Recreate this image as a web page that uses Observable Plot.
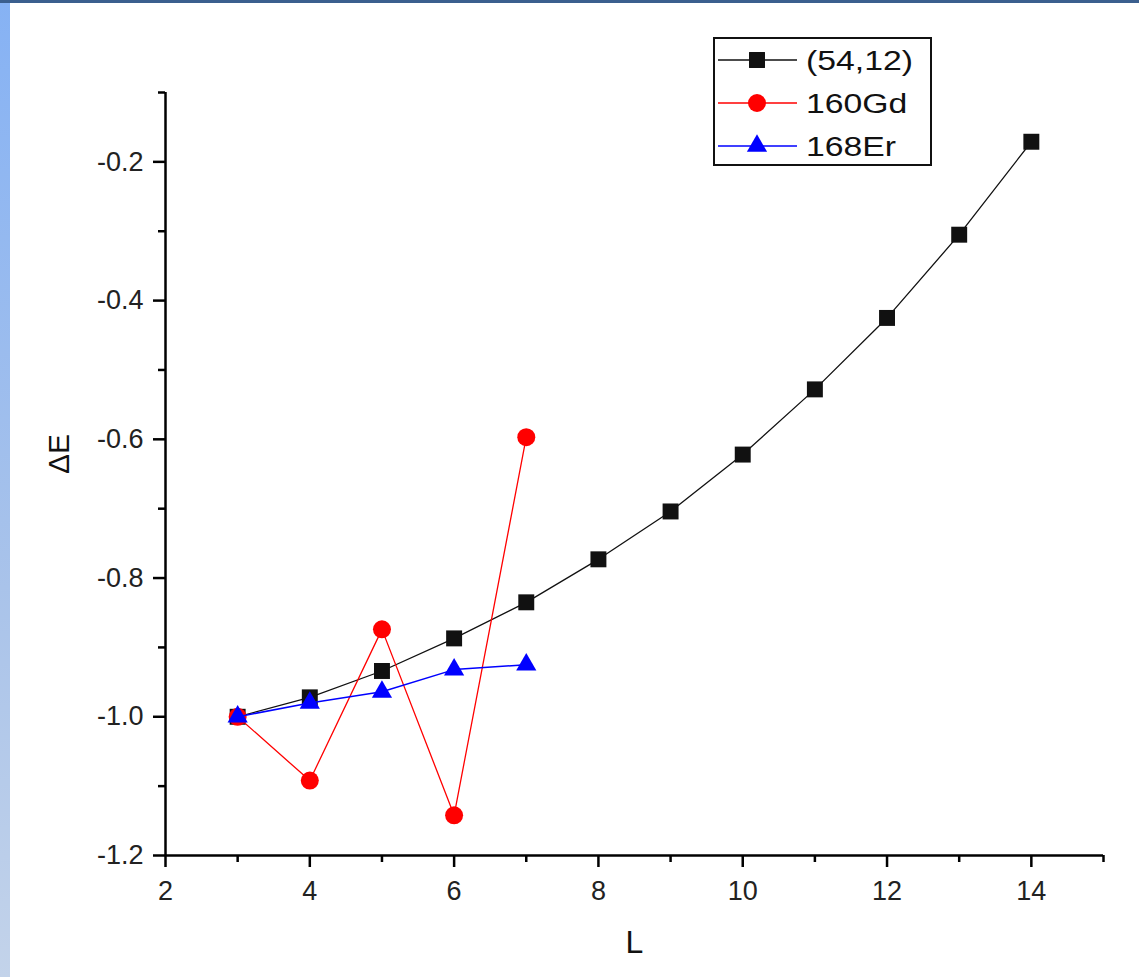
<!DOCTYPE html>
<html>
<head>
<meta charset="utf-8">
<script src="https://cdn.jsdelivr.net/npm/d3@7"></script>
<script src="https://cdn.jsdelivr.net/npm/@observablehq/plot@0.6"></script>
<style>
  html, body { margin: 0; padding: 0; background: #fff; }
  body { width: 1139px; height: 977px; position: relative; overflow: hidden; font-family: "Liberation Sans", Arial, sans-serif; }
  #topbar { position: absolute; left: 0; top: 0; width: 1139px; height: 3px; background: #3b5f8e; }
  #leftbar { position: absolute; left: 0; top: 3px; width: 10px; height: 974px; background: linear-gradient(#86b2f4, #a9c3ea 60%, #c3d3ea); }
  #chart { position: absolute; left: 0; top: 0; }
  #legend { position: absolute; left: 713px; top: 37px; }
</style>
</head>
<body>
<div id="chart"></div>
<div id="topbar"></div>
<div id="leftbar"></div>
<div id="legend"></div>
<script>
const L_black = [3, 4, 5, 6, 7, 8, 9, 10, 11, 12, 13, 14];
const E_black = [-1.0, -0.972, -0.934, -0.887, -0.835, -0.773, -0.704, -0.622, -0.528, -0.425, -0.305, -0.171];
const L_red = [3, 4, 5, 6, 7];
const E_red = [-1.0, -1.092, -0.874, -1.142, -0.597];
const L_blue = [3, 4, 5, 6, 7];
const E_blue = [-1.0, -0.980, -0.964, -0.932, -0.925];
const seriesNames = ["(54,12)", "160Gd", "168Er"];
const seriesColors = ["#111111", "#ff0000", "#0000ff"];
const seriesSymbols = ["square", "circle", "triangle"];
const xMajor = [2, 4, 6, 8, 10, 12, 14];
const xMinor = [3, 5, 7, 9, 11, 13, 15];
const yMajor = [-1.2, -1.0, -0.8, -0.6, -0.4, -0.2];
const yMinor = [-1.1, -0.9, -0.7, -0.5, -0.3, -0.1];

const black = L_black.map((L, i) => ({L, E: E_black[i]}));
const red = L_red.map((L, i) => ({L, E: E_red[i]}));
const blue = L_blue.map((L, i) => ({L, E: E_blue[i]}));

const fmt = d => d.toFixed(1);

const chart = Plot.plot({
  width: 1139,
  height: 977,
  marginLeft: 165,
  marginTop: 92,
  marginRight: 36,
  marginBottom: 122,
  style: {fontFamily: "'Liberation Sans', Arial, sans-serif", fontSize: "27px", color: "#222", background: "transparent", overflow: "visible"},
  x: {domain: [2, 15]},
  y: {domain: [-1.2, -0.1]},
  marks: [
    Plot.ruleY([-1.2], {stroke: "#000", strokeWidth: 2.5}),
    Plot.ruleX([2], {stroke: "#000", strokeWidth: 2.5}),
    Plot.axisX(xMajor, {tickSize: 12, tickPadding: 13, strokeWidth: 2.5, stroke: "#000", fill: "#222", label: null}),
    Plot.axisX(xMinor, {tickSize: 7, strokeWidth: 2.5, stroke: "#000", tickFormat: () => "", label: null}),
    Plot.axisY(yMajor, {tickSize: 12, tickPadding: 10, strokeWidth: 2.5, stroke: "#000", tickFormat: fmt, fill: "#222", label: null}),
    Plot.axisY(yMinor, {tickSize: 7, strokeWidth: 2.5, stroke: "#000", tickFormat: () => "", label: null}),
    Plot.text(["L"], {frameAnchor: "bottom", dy: 97, fontSize: 32, fill: "#111"}),
    Plot.text(["ΔE"], {frameAnchor: "left", dx: -106, rotate: -90, fontSize: 30, fill: "#111"}),
    Plot.line(black, {x: "L", y: "E", stroke: seriesColors[0], strokeWidth: 1.3}),
    Plot.dot(black, {x: "L", y: "E", symbol: seriesSymbols[0], r: 9, fill: seriesColors[0], stroke: "none"}),
    Plot.line(red, {x: "L", y: "E", stroke: seriesColors[1], strokeWidth: 1.3}),
    Plot.dot(red, {x: "L", y: "E", symbol: seriesSymbols[1], r: 9, fill: seriesColors[1], stroke: "none"}),
    Plot.line(blue, {x: "L", y: "E", stroke: seriesColors[2], strokeWidth: 1.5}),
    Plot.dot(blue, {x: "L", y: "E", symbol: seriesSymbols[2], r: 7.5, fill: seriesColors[2], stroke: "none"})
  ]
});
d3.select(chart).selectAll('g[aria-label$="tick label"]').attr("font-size", 27).style("font-size", "27px");
document.getElementById("chart").appendChild(chart);

// Legend (HTML/SVG overlay)
const lw = 219, lh = 129;
const lg = d3.select("#legend").append("svg").attr("width", lw).attr("height", lh)
  .style("font-family", "'Liberation Sans', Arial, sans-serif");
lg.append("rect").attr("x", 1).attr("y", 1).attr("width", lw - 2).attr("height", lh - 2)
  .attr("fill", "#fff").attr("stroke", "#111").attr("stroke-width", 2);
seriesNames.forEach((name, i) => {
  const cy = 23 + i * 43;
  lg.append("line").attr("x1", 5).attr("x2", 84).attr("y1", cy).attr("y2", cy)
    .attr("stroke", seriesColors[i]).attr("stroke-width", 1.3);
  const sym = {square: d3.symbolSquare, circle: d3.symbolCircle, triangle: d3.symbolTriangle}[seriesSymbols[i]];
  const r = [9, 9, 7.5][i];
  lg.append("path").attr("d", d3.symbol(sym, Math.PI * r * r)())
    .attr("transform", `translate(44,${cy})`).attr("fill", seriesColors[i]);
  lg.append("text").attr("transform", `translate(93,${cy}) scale(1.25,1)`).attr("dy", "0.36em")
    .attr("font-size", 27).attr("fill", "#111").text(name);
});
</script>
</body>
</html>
